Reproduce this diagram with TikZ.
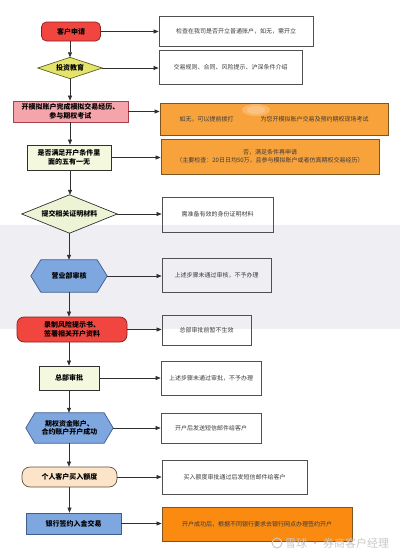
\documentclass[tikz,border=0pt]{standalone}
\usepackage{fontspec}
\setmainfont{Noto Sans CJK SC}
\usetikzlibrary{arrows.meta,backgrounds}
\definecolor{redf}{HTML}{F0463F}
\definecolor{redd}{HTML}{8E1E1E}
\definecolor{yelf}{HTML}{E4E46C}
\definecolor{yeld}{HTML}{5E5E1E}
\definecolor{pinkf}{HTML}{F6A4AC}
\definecolor{pinkd}{HTML}{A8404E}
\definecolor{lyf}{HTML}{F4F8DE}
\definecolor{lgf}{HTML}{EDF4D6}
\definecolor{bluef}{HTML}{7EA6DF}
\definecolor{blued}{HTML}{3E5E8E}
\definecolor{beigef}{HTML}{FCE4C9}
\definecolor{beiged}{HTML}{5E5040}
\definecolor{orangea}{HTML}{F8A23C}
\definecolor{oranged}{HTML}{7E5420}
\definecolor{orangeb}{HTML}{FA8A10}
\definecolor{bandc}{HTML}{EFEFF3}
\definecolor{boxgray}{HTML}{505050}
\definecolor{txtgray}{HTML}{3A3A3A}
\definecolor{linec}{HTML}{303030}
\tikzset{
  mainlbl/.style={inner sep=0pt, align=center, font=\fontsize{7}{8.6}\selectfont\bfseries, text=black},
  mainbox/.style={mainlbl, line width=0.7pt},
  infobox/.style={draw=boxgray, line width=0.8pt, inner sep=0pt, align=center,
     font=\fontsize{6}{8}\selectfont, text=txtgray},
  link/.style={-{Triangle[length=5pt,width=4pt]}, line width=0.6pt, draw=linec},
}
\begin{document}
\begin{tikzpicture}[x=1pt,y=-1pt]
\useasboundingbox (0,0) rectangle (400,554);

% main flow nodes
\node[mainbox, draw=redd, fill=redf, rounded corners=5pt, minimum width=59pt, minimum height=19pt] (n1) at (71,31.5) {客户申请};
\node[mainlbl, minimum width=64pt, minimum height=21pt] (n2) at (70,68) {投资教育};
\node[mainbox, draw=pinkd, fill=pinkf, minimum width=115pt, minimum height=21pt] (n3) at (70.5,111.5) {开模拟账户完成模拟交易经历、\\参与期权考试};
\node[mainbox, draw=linec, fill=lyf, minimum width=84pt, minimum height=25pt] (n4) at (69,157.5) {是否满足开户条件里\\面的五有一无};
\node[mainlbl, minimum width=95pt, minimum height=38pt] (n5) at (69.5,214) {提交相关证明材料};
\node[mainlbl, minimum width=76pt, minimum height=32pt] (n6) at (69,276) {营业部审核};
\node[mainbox, draw=redd, fill=redf, rounded corners=7pt, minimum width=110pt, minimum height=25pt] (n7) at (72,329.5) {录制风险提示书、\\签署相关开户资料};
\node[mainbox, draw=linec, fill=lyf, minimum width=60pt, minimum height=24pt] (n8) at (69,378) {总部审批};
\node[mainlbl, minimum width=87pt, minimum height=30pt] (n9) at (69.5,428) {期权资金账户、\\合约账户开户成功};
\node[mainbox, draw=beiged, fill=beigef, rounded corners=8pt, minimum width=95pt, minimum height=20pt] (n10) at (69.5,477) {个人客户买入额度};
\node[mainbox, draw=blued, fill=bluef, minimum width=95pt, minimum height=21pt] (n11) at (73.5,523.5) {银行签约入金交易};

% info boxes
\node[infobox, minimum width=154pt, minimum height=30pt] (b1) at (236,31) {检查在我司是否开立普通账户，如无，需开立};
\node[infobox, minimum width=143pt, minimum height=34pt] (b2) at (230.5,67) {交易规则、合同、风险提示、沪深条件介绍};
\node[infobox, draw=oranged, fill=orangea, minimum width=228pt, minimum height=32pt] (b3) at (274,119) {如无，可以提前拨打\hspace{27pt}为您开模拟账户交易及预约期权现场考试};
\node[infobox, draw=oranged, fill=orangea, minimum width=218pt, minimum height=35pt] (b4) at (270,156.5) {否，满足条件再申请\\（主要检查：20日日均50万，且参与模拟账户或者仿真期权交易经历）};
\node[infobox, minimum width=111pt, minimum height=35pt] (b5) at (217.5,214.5) {需准备有效的身份证明材料};
\node[infobox, minimum width=109pt, minimum height=34pt] (b6) at (216.5,275) {上述步骤未通过审核，不予办理};
\node[infobox, minimum width=89pt, minimum height=30pt] (b7) at (206.5,330) {总部审批前暂不生效};
\node[infobox, minimum width=100pt, minimum height=34pt] (b8) at (211,378) {上述步骤未通过审批，不予办理};
\node[infobox, minimum width=100pt, minimum height=30pt] (b9) at (211,428) {开户后发送短信邮件给客户};
\node[infobox, minimum width=145pt, minimum height=34pt] (b10) at (234.5,477) {买入额度审批通过后发短信邮件给客户};
\node[infobox, draw=oranged, fill=orangeb, minimum width=190pt, minimum height=34pt] (b11) at (257,524) {开户成功后，根据不同银行要求去银行网点办理签约开户};

% background: band and special shapes
\begin{scope}[on background layer]
  \fill[bandc] (0,225) rectangle (400,329);
  \draw[draw=yeld, fill=yelf, line width=0.7pt] (n2.west) -- (n2.north) -- (n2.east) -- (n2.south) -- cycle;
  \draw[draw=linec, fill=lgf, line width=0.7pt] (n5.west) -- (n5.north) -- (n5.east) -- (n5.south) -- cycle;
  \draw[draw=blued, fill=bluef, line width=0.7pt] (n6.west) -- ([xshift=10pt]n6.north west) -- ([xshift=-10pt]n6.north east) -- (n6.east) -- ([xshift=-10pt]n6.south east) -- ([xshift=10pt]n6.south west) -- cycle;
  \draw[draw=blued, fill=bluef, line width=0.7pt] (n9.west) -- ([xshift=9pt]n9.north west) -- ([xshift=-9pt]n9.north east) -- (n9.east) -- ([xshift=-9pt]n9.south east) -- ([xshift=9pt]n9.south west) -- cycle;
\end{scope}
% blurred patch in b3
\fill[white, opacity=0.22] (256,110) ellipse (14pt and 6pt);
\fill[white, opacity=0.18] (256,110) ellipse (9pt and 4pt);

% horizontal connectors
\draw[link] (n1.east) -- (n1.east -| b1.west);
\draw[link] (n2.east) -- (n2.east -| b2.west);
\draw[link] (n3.east) -- (n3.east -| b3.west);
\draw[link] (n4.east) -- (n4.east -| b4.west);
\draw[link] (n5.east) -- (n5.east -| b5.west);
\draw[link] (n6.east) -- (n6.east -| b6.west);
\draw[link] (n7.east) -- (n7.east -| b7.west);
\draw[link] (n8.east) -- (n8.east -| b8.west);
\draw[link] (n9.east) -- (n9.east -| b9.west);
\draw[link] (n10.east) -- (n10.east -| b10.west);
\draw[link] (n11.east) -- (n11.east -| b11.west);

% vertical connectors
\draw[link] ([xshift=-1pt]n1.south) -- ([xshift=-1pt]n1.south |- n2.north);
\draw[link] (n2.south) -- (n2.south |- n3.north);
\draw[link] ([xshift=-0.5pt]n3.south) -- ([xshift=-0.5pt]n3.south |- n4.north);
\draw[link] ([xshift=1pt]n4.south) -- ([xshift=1pt]n4.south |- n5.north);
\draw[link] ([xshift=-0.5pt]n5.south) -- ([xshift=-0.5pt]n5.south |- n6.north);
\draw[link] (n6.south) -- (n6.south |- n7.north);
\draw[link] (n7.south -| n8.north) -- (n8.north);
\draw[link] (n8.south) -- (n8.south |- n9.north);
\draw[link] ([xshift=-0.5pt]n9.south) -- ([xshift=-0.5pt]n9.south |- n10.north);
\draw[link] (n10.south) -- (n10.south |- n11.north);

% watermark
\node[circle, draw=gray!45, line width=1pt, minimum size=10pt, inner sep=0pt] (wmlogo) at (277,543) {};
\node[anchor=west, inner sep=0pt, text=gray!45, font=\fontsize{11}{12}\selectfont] (wmtext) at (285,543) {雪球 · 券商客户经理};
\end{tikzpicture}
\end{document}
